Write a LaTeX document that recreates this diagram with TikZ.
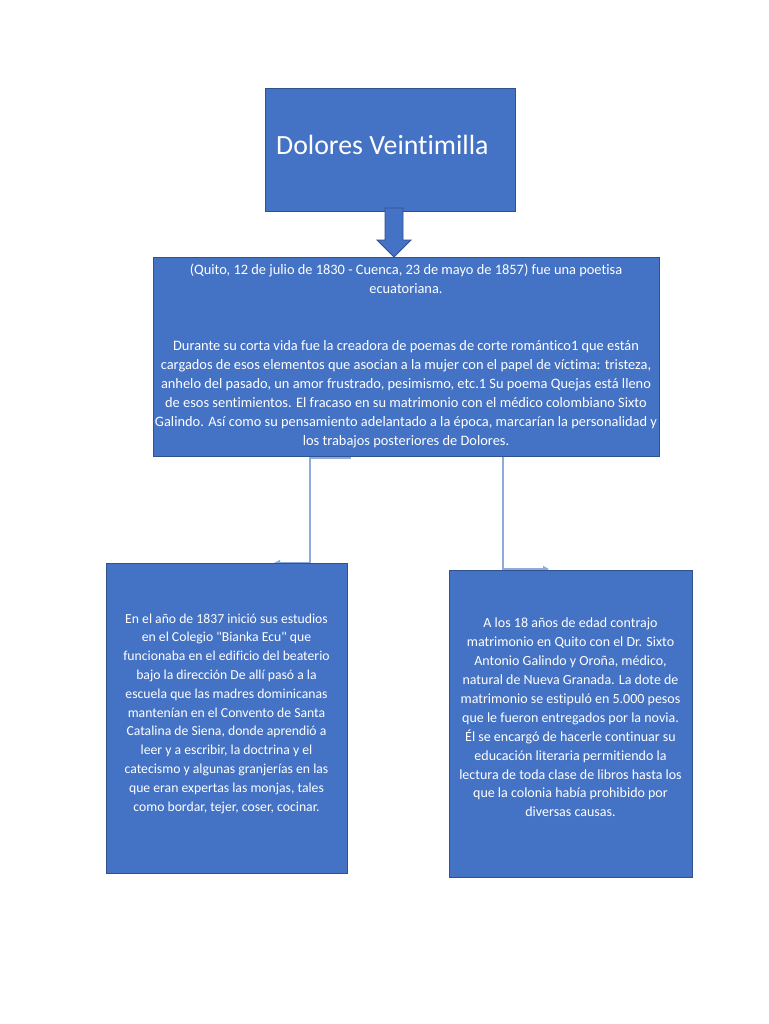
\documentclass[tikz,border=0pt]{standalone}
\usepackage{fontspec}
\setmainfont{Carlito}[Ligatures={NoCommon}]
\usetikzlibrary{arrows.meta}
\definecolor{boxfill}{HTML}{4472C4}
\definecolor{boxline}{HTML}{2F528F}
\definecolor{connline}{HTML}{8FAADC}
\tikzset{
  bluebox/.style={draw=boxline, fill=boxfill, line width=1pt, rectangle, inner sep=0pt},
  bodytext/.style={text=white, align=center, inner sep=0pt},
  conn/.style={draw=connline, line width=1.3pt, -{Triangle[length=6pt,width=6pt]}},
}
\begin{document}
\begin{tikzpicture}[x=1pt,y=-1pt]
\useasboundingbox[fill=white] (0,0) rectangle (768,1024);

% connectors (drawn first, partly hidden by the boxes)
\coordinate (lstart) at (351,458);
\coordinate (lbend) at (310,563);
\coordinate (lend) at (274,563);
\coordinate (rstart) at (503,456);
\coordinate (rend) at (549,569);
\draw[conn] (lstart) -| (lbend) -- (lend);
\draw[conn] (rstart) |- (rend);

% title
\node[bluebox, minimum width=250pt, minimum height=123pt] (title) at (390,150.5) {};
\node[text=white, anchor=west, inner sep=0pt, font=\fontsize{27.8}{32}\selectfont] (titletext) at (276,145) {Dolores Veintimilla};

% block arrow
\draw[boxline, fill=boxfill, line width=0.8pt] (385,208) -- (403,208) -- (403,240) -- (411,240) -- (394,257) -- (377,240) -- (385,240) -- cycle;

% main box
\node[bluebox, minimum width=506pt, minimum height=199pt] (main) at (406,356.5) {};
\node[bodytext, font=\fontsize{14.4}{19}\selectfont] (maintext) at (406,356) {(Quito, 12 de julio de 1830 - Cuenca, 23 de mayo de 1857) fue una poetisa\\
ecuatoriana.\\ ~\\ ~\\
Durante su corta vida fue la creadora de poemas de corte romántico1 que están\\
cargados de esos elementos que asocian a la mujer con el papel de víctima: tristeza,\\
anhelo del pasado, un amor frustrado, pesimismo, etc.1 Su poema Quejas está lleno\\
de esos sentimientos. El fracaso en su matrimonio con el médico colombiano Sixto\\
Galindo. Así como su pensamiento adelantado a la época, marcarían la personalidad y\\
los trabajos posteriores de Dolores.};

% left box
\node[bluebox, minimum width=241pt, minimum height=310pt] (left) at (226.5,718) {};
\node[bodytext, font=\fontsize{13.7}{18.8}\selectfont] (lefttext) at (226.5,713.5) {En el año de 1837 inició sus estudios\\
en el Colegio \textquotedbl Bianka Ecu\textquotedbl{} que\\
funcionaba en el edificio del beaterio\\
bajo la dirección De allí pasó a la\\
escuela que las madres dominicanas\\
mantenían en el Convento de Santa\\
Catalina de Siena, donde aprendió a\\
leer y a escribir, la doctrina y el\\
catecismo y algunas granjerías en las\\
que eran expertas las monjas, tales\\
como bordar, tejer, coser, cocinar.};

% right box
\node[bluebox, minimum width=243pt, minimum height=307pt] (right) at (570.5,723.5) {};
\node[bodytext, font=\fontsize{14}{18.9}\selectfont] (righttext) at (570.5,717.5) {A los 18 años de edad contrajo\\
matrimonio en Quito con el Dr. Sixto\\
Antonio Galindo y Oroña, médico,\\
natural de Nueva Granada. La dote de\\
matrimonio se estipuló en 5.000 pesos\\
que le fueron entregados por la novia.\\
Él se encargó de hacerle continuar su\\
educación literaria permitiendo la\\
lectura de toda clase de libros hasta los\\
que la colonia había prohibido por\\
diversas causas.};
\end{tikzpicture}
\end{document}
